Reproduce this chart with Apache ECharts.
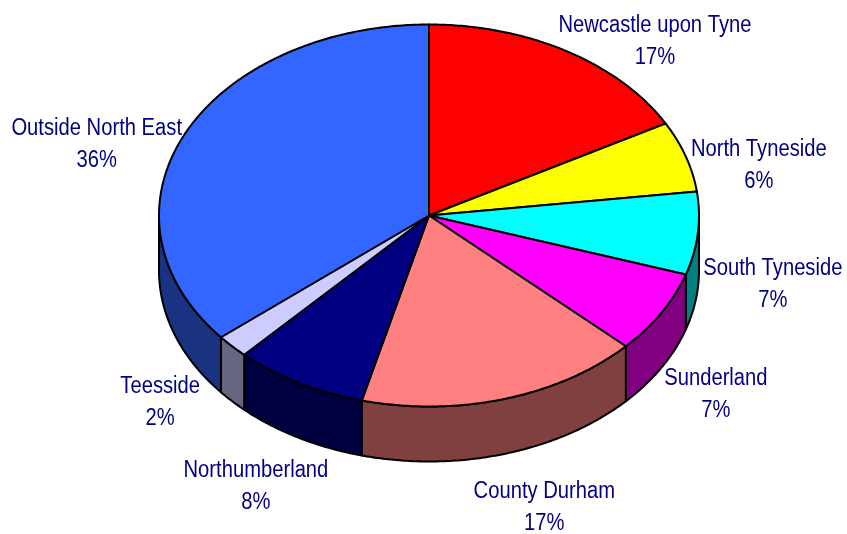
<!DOCTYPE html>
<html>
<head>
<meta charset="utf-8">
<style>html,body{margin:0;padding:0;background:#fff}#chart{width:847px;height:534px}</style>
<script src="https://cdn.jsdelivr.net/npm/echarts@6/dist/echarts.min.js"></script>
</head>
<body>
<div id="chart"></div>
<script>
// Share of respondents by area, clockwise from twelve o'clock
const areas = ['Newcastle upon Tyne', 'North Tyneside', 'South Tyneside', 'Sunderland',
  'County Durham', 'Northumberland', 'Teesside', 'Outside North East'];
const shares = [17, 6, 7, 7, 17, 8, 2, 36];

const topColours = ['#FF0000', '#FFFF00', '#00FFFF', '#FF00FF', '#FF8080', '#000080', '#CCCCFF', '#3366FF'];
const wallColours = ['#800000', '#808000', '#008080', '#800080', '#804040', '#000040', '#666680', '#1A3380'];

// Disc geometry: centre, radii of the tilted top face and the height of its rim
const disc = { cx: 429, cy: 215.5, rx: 270, ry: 191, depth: 55 };
// Label centres, given as a shift from the rim point at each slice's middle angle
const labelShift = [[88.5, -9], [73, 9.5], [75, 51], [54.5, 81.5], [40, 108.5], [-43, 103.5], [-72, 56], [-88, 10.5]];

const total = shares.reduce((a, b) => a + b, 0);
const rim = (t, dy) => [
  disc.cx + disc.rx * Math.sin(t),
  disc.cy - disc.ry * Math.cos(t) + (dy || 0)
];
// Points along the rim between two angles, measured clockwise from the top
function arc(a, b, dy) {
  const n = Math.max(2, Math.ceil(Math.abs(b - a) / 0.01));
  const pts = [];
  for (let i = 0; i <= n; i++) pts.push(rim(a + (b - a) * i / n, dy));
  return pts;
}

function renderSlice(params, api) {
  const i = params.dataIndex;
  const before = shares.slice(0, i).reduce((a, b) => a + b, 0);
  const a0 = before / total * Math.PI * 2;
  const a1 = (before + api.value(0)) / total * Math.PI * 2;
  const outline = { stroke: '#000', lineWidth: 2, lineJoin: 'round' };
  const children = [];

  // Only the front half of the rim (between 90° and 270°) is visible
  const w0 = Math.max(a0, Math.PI / 2);
  const w1 = Math.min(a1, Math.PI * 1.5);
  if (w1 > w0) {
    children.push({
      type: 'polygon',
      shape: { points: arc(w0, w1, 0).concat(arc(w1, w0, disc.depth)) },
      style: Object.assign({ fill: wallColours[i] }, outline)
    });
  }
  children.push({
    type: 'polygon',
    shape: { points: [[disc.cx, disc.cy]].concat(arc(a0, a1, 0)) },
    style: Object.assign({ fill: topColours[i] }, outline),
    z2: 1
  });

  const mid = rim((a0 + a1) / 2);
  children.push({
    type: 'text',
    x: mid[0] + labelShift[i][0],
    y: mid[1] + labelShift[i][1],
    scaleX: 0.878,
    z2: 2,
    style: {
      text: areas[i] + '\n' + api.value(0) + '%',
      x: 0, y: 0,
      align: 'center', verticalAlign: 'middle',
      fill: '#000080',
      font: '23px "Liberation Sans", Arial, sans-serif',
      lineHeight: 32
    }
  });
  return { type: 'group', children };
}

const chart = echarts.init(document.getElementById('chart'), null, { renderer: 'canvas' });
chart.setOption({
  animation: false,
  backgroundColor: '#fff',
  series: [{
    type: 'custom',
    coordinateSystem: 'none',
    silent: true,
    renderItem: renderSlice,
    data: shares.map((v, i) => ({ name: areas[i], value: [v] }))
  }]
});
</script>
</body>
</html>
